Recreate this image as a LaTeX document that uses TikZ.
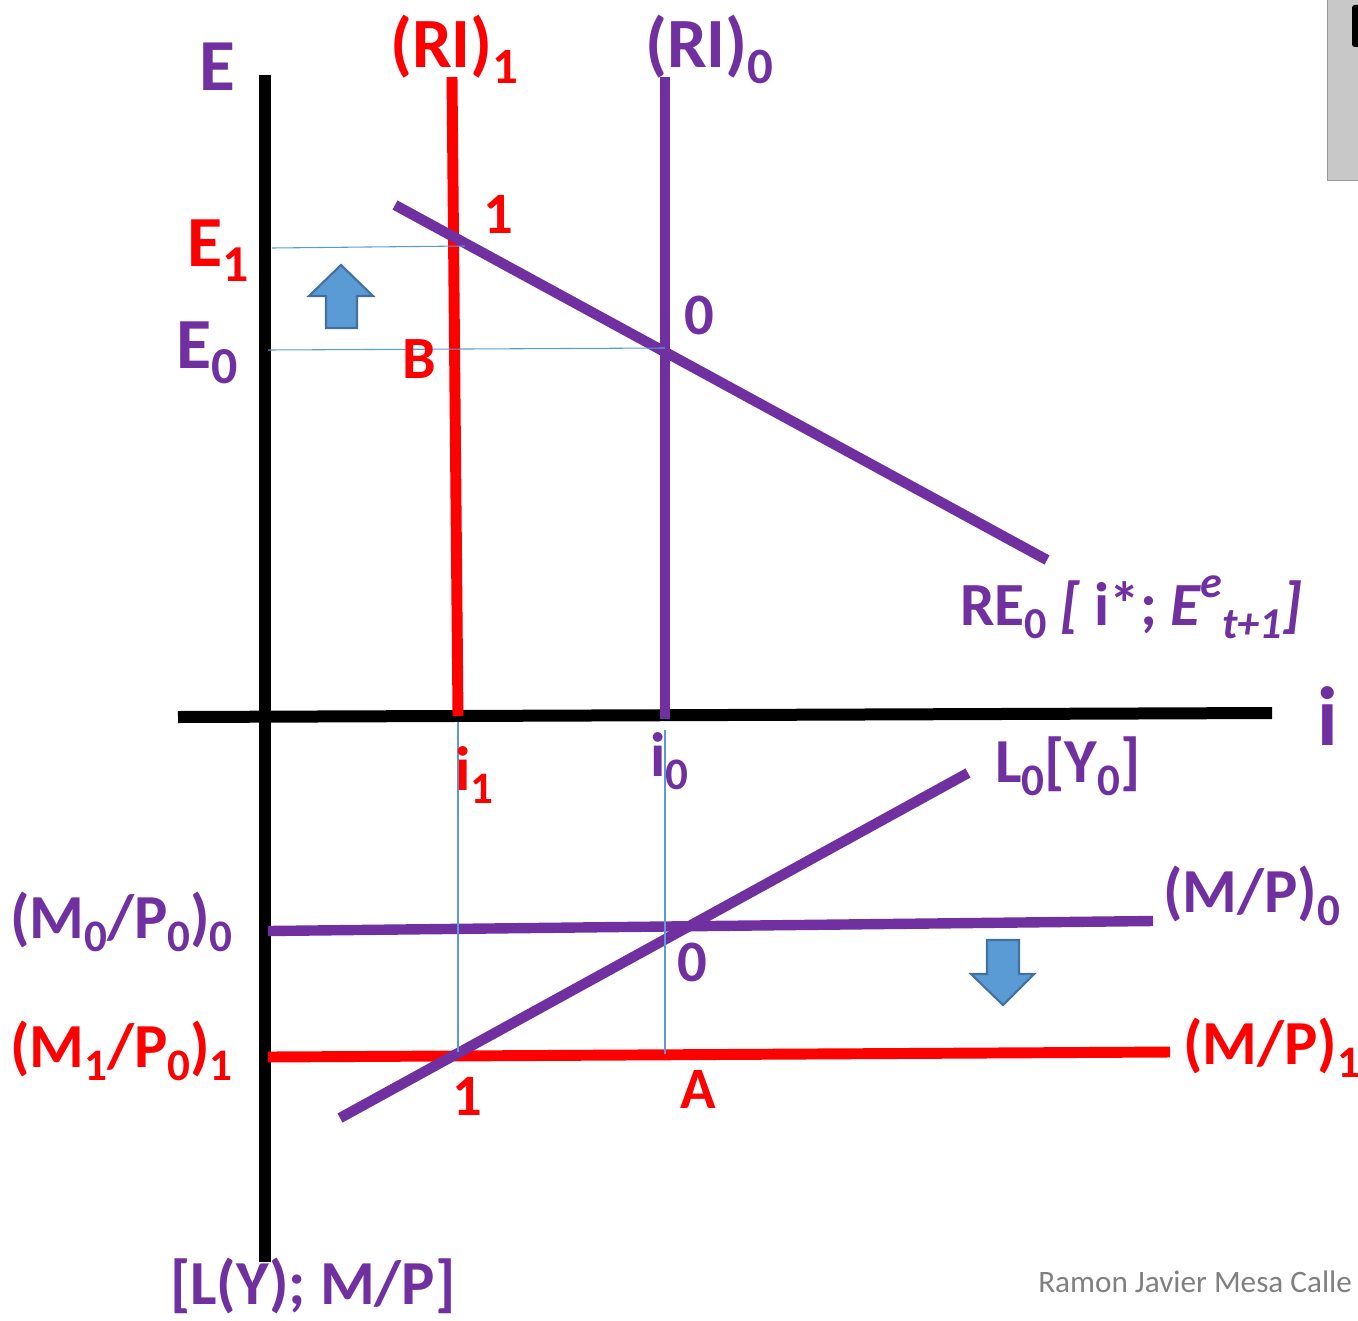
\documentclass[tikz,border=0pt]{standalone}
\usepackage{fontspec}
\setmainfont{Carlito}
\definecolor{pur}{HTML}{7030A0}
\definecolor{rd}{HTML}{FF0000}
\definecolor{bl}{HTML}{5B9BD5}
\definecolor{blb}{HTML}{41719C}
\definecolor{gbox}{HTML}{C8C8C8}
\newcommand\lo[1]{\raisebox{-0.22em}{\scalebox{0.72}{#1}}}
\newcommand\hi[1]{\raisebox{0.45em}{\scalebox{0.72}{#1}}}
\tikzset{
  lbl/.style={font=\bfseries\fontsize{#1}{#1}\selectfont, inner sep=0pt, outer sep=0pt},
  axisline/.style={line width=9pt, black},
  curvep/.style={line width=7.8pt, pur},
  curver/.style={line width=8.2pt, rd},
  guide/.style={line width=0.8pt, bl},
  blockarrow/.style={fill=bl, draw=blb, line width=1.6pt, line join=miter}
}
\begin{document}
\begin{tikzpicture}[x=0.75pt,y=-0.75pt]
\useasboundingbox (0,0) rectangle (1358,1320);
% gray box at top right
\fill[gbox, draw=gray!80] (1327,-5) rectangle (1370,180);
\fill[black, rounded corners=2pt] (1352,5) rectangle (1370,47);

% coordinates
\coordinate (vtop) at (265,75);
\coordinate (vbot) at (265,1262);
\coordinate (hl) at (178,717);
\coordinate (hr) at (1272,713);
\coordinate (ri1t) at (452,77);
\coordinate (ri1b) at (458,716);
\coordinate (ri0t) at (665,77);
\coordinate (ri0b) at (665,719);
\coordinate (re0a) at (395,205);
\coordinate (re0b) at (1047,560);
\coordinate (l0a) at (340,1118);
\coordinate (l0b) at (968,773);
\coordinate (mp0a) at (268,931);
\coordinate (mp0b) at (1153,921);
\coordinate (mp1a) at (268,1057);
\coordinate (mp1b) at (1170,1052);

\coordinate (g1a) at (272,248);
\coordinate (g1b) at (465,246);
\coordinate (g0a) at (268,350);
\coordinate (g0b) at (665,348);
\coordinate (gi1a) at (458,722);
\coordinate (gi1b) at (458,1052);
\coordinate (gi0a) at (665,730);
\coordinate (gi0b) at (665,1054);

% axes
\draw[axisline] (vtop) -- (vbot);
\draw[axisline] (hl) -- (hr);

% curves
\draw[curver] (ri1t) -- (ri1b);
\draw[curvep] (ri0t) -- (ri0b);
\draw[curvep] (re0a) -- (re0b);
\draw[curvep] (mp0a) -- (mp0b);
\draw[curver] (mp1a) -- (mp1b);
\draw[curvep] (l0a) -- (l0b);

% guides
\draw[guide] (g1a) -- (g1b);
\draw[guide] (g0a) -- (g0b);
\draw[guide] (gi1a) -- (gi1b);
\draw[guide] (gi0a) -- (gi0b);

% block arrows
\draw[blockarrow] (341,265) -- (373,296) -- (357,296) -- (357,328) -- (326,328) -- (326,296) -- (309,296) -- cycle;
\draw[blockarrow] (1003,1005) -- (1034,974) -- (1019,974) -- (1019,940) -- (987,940) -- (987,974) -- (971,974) -- cycle;

% labels
\node[lbl=55pt, pur, anchor=base west] (lE) at (199,90) {E};
\node[lbl=53pt, rd, anchor=base west] (lRI1) at (390,68) {(RI)\lo{1}};
\node[lbl=53pt, pur, anchor=base west] (lRI0) at (645,68) {(RI)\lo{0}};
\node[lbl=44pt, rd, anchor=base west] (p1) at (483,233) {1};
\node[lbl=54pt, rd, anchor=base west] (lE1) at (187,266) {E\lo{1}};
\node[lbl=44pt, pur, anchor=base west] (p0) at (684,334) {0};
\node[lbl=54pt, pur, anchor=base west] (lE0) at (176,368) {E\lo{0}};
\node[lbl=45pt, rd, anchor=base west] (pB) at (402,378) {B};
\node[lbl=46pt, pur, anchor=base west] (lRE) at (960,625) {RE\lo{0} \textit{[} i*; \textit{E\hi{e}\lo{t+1}]}};
\node[lbl=63pt, pur, anchor=base west] (li) at (1317,745) {i};
\node[lbl=47pt, rd, anchor=base west] (li1) at (455,790) {i\lo{1}};
\node[lbl=47pt, pur, anchor=base west] (li0) at (650,776) {i\lo{0}};
\node[lbl=47pt, pur, anchor=base west] (lL0) at (995,782) {L\lo{0}[Y\lo{0}]};
\node[lbl=47pt, pur, anchor=base west] (lMP0) at (1163,912) {(M/P)\lo{0}};
\node[lbl=47pt, pur, anchor=base west] (lM0P0) at (10,938) {(M\lo{0}/P\lo{0})\lo{0}};
\node[lbl=47pt, rd, anchor=base west] (lM1P0) at (10,1067) {(M\lo{1}/P\lo{0})\lo{1}};
\node[lbl=47pt, rd, anchor=base west] (lMP1) at (1183,1064) {(M/P)\lo{1}};
\node[lbl=44pt, pur, anchor=base west] (q0) at (677,981) {0};
\node[lbl=44pt, rd, anchor=base west] (q1) at (452,1115) {1};
\node[lbl=44pt, rd, anchor=base west] (qA) at (680,1108) {A};
\node[lbl=47pt, pur, anchor=base west] (lLY) at (170,1304) {[L(Y); M/P]};
\node[font=\fontsize{23.4pt}{23.4pt}\selectfont, text=gray, inner sep=0pt, anchor=base west] (auth) at (1038,1292) {Ramon Javier Mesa Calle};
\end{tikzpicture}
\end{document}
